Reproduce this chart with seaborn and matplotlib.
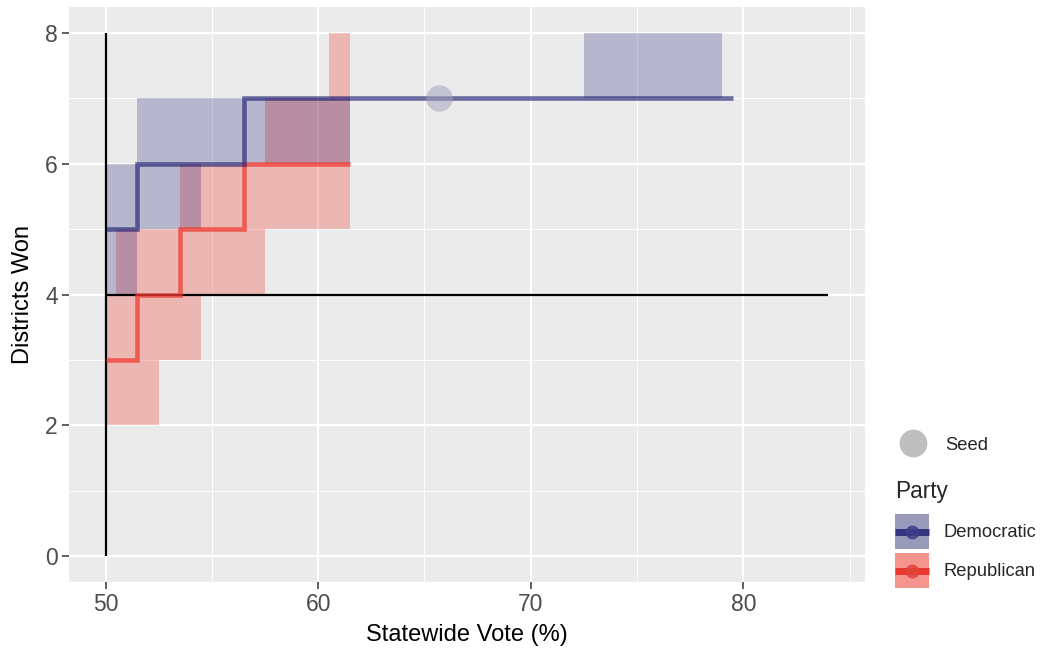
import matplotlib
matplotlib.use("Agg")
import matplotlib.pyplot as plt
import seaborn as sns
import numpy as np
import pandas as pd
from matplotlib.patches import Patch
from matplotlib.lines import Line2D
from matplotlib.legend_handler import HandlerLine2D

# ---------------- data ----------------
parties = ["Democratic", "Republican"]

dem_step_x = [50.0, 51.5, 56.5, 79.5]
dem_step_y = [5, 6, 7, 7]
rep_step_x = [50.0, 51.5, 53.5, 56.5, 61.5]
rep_step_y = [3, 4, 5, 6, 6]

dem_rect_xmin = [50.0, 50.0, 51.5, 72.5]
dem_rect_xmax = [51.5, 54.5, 61.5, 79.0]
dem_rect_ymin = [4, 5, 6, 7]
dem_rect_ymax = [5, 6, 7, 8]

rep_rect_xmin = [50.0, 50.0, 50.5, 53.5, 57.5, 60.5]
rep_rect_xmax = [52.5, 54.5, 57.5, 61.5, 61.5, 61.5]
rep_rect_ymin = [2, 3, 4, 5, 6, 7]
rep_rect_ymax = [3, 4, 5, 6, 7, 8]

seed_x = [65.7]
seed_y = [7]

ref_vline_x = 50
ref_vline_y = [0, 8]
ref_hline_y = 4
ref_hline_x = [50, 84]

x_ticks = [50, 60, 70, 80]
y_ticks = [0, 2, 4, 6, 8]

# ---------------- style ----------------
sns.set_theme(style="darkgrid")
plt.rcParams['font.family'] = ['Liberation Sans', 'DejaVu Sans']

DEM_FILL = (25/255, 25/255, 112/255)
REP_FILL = (240/255, 60/255, 50/255)

fig = plt.figure(figsize=(10.44, 6.49), dpi=100)
W, H = 1044, 649
ax = fig.add_axes([69 / W, 1 - 582 / H, (865 - 69) / W, (582 - 7) / H])
ax.set_facecolor('#EBEBEB')

# rectangles (Republican first, Democratic on top)
ax.bar(x=rep_rect_xmin,
       height=np.array(rep_rect_ymax) - np.array(rep_rect_ymin),
       width=np.array(rep_rect_xmax) - np.array(rep_rect_xmin),
       bottom=rep_rect_ymin, align='edge', color=REP_FILL, alpha=0.3,
       linewidth=0, zorder=2)
ax.bar(x=dem_rect_xmin,
       height=np.array(dem_rect_ymax) - np.array(dem_rect_ymin),
       width=np.array(dem_rect_xmax) - np.array(dem_rect_xmin),
       bottom=dem_rect_ymin, align='edge', color=DEM_FILL, alpha=0.25,
       linewidth=0, zorder=2)

# reference lines
ax.plot([ref_vline_x, ref_vline_x], ref_vline_y, color='black', lw=1.6, zorder=3,
        solid_capstyle='butt')
ax.plot(ref_hline_x, [ref_hline_y, ref_hline_y], color='black', lw=1.6, zorder=3,
        solid_capstyle='butt')

# step lines
steps = pd.concat([
    pd.DataFrame({"vote": rep_step_x, "won": rep_step_y, "party": "Republican"}),
    pd.DataFrame({"vote": dem_step_x, "won": dem_step_y, "party": "Democratic"}),
])
sns.lineplot(data=steps, x="vote", y="won", hue="party",
             hue_order=["Republican", "Democratic"],
             palette={"Republican": REP_FILL, "Democratic": DEM_FILL},
             drawstyle="steps-post", lw=3.3, alpha=0.62, legend=False,
             estimator=None, sort=False, ax=ax, zorder=4)
for ln in ax.get_lines()[-2:]:
    ln.set_solid_capstyle('butt')
    ln.set_solid_joinstyle('miter')
ax.get_lines()[-2].set_alpha(0.75)

# seed point
sns.scatterplot(x=seed_x, y=seed_y, color='#A4A4C0', s=19 ** 2, alpha=0.55,
                linewidth=0, ax=ax, zorder=5)

# axes
ax.set_xlim(48.28, 85.72)
ax.set_ylim(-0.4, 8.4)
ax.set_xticks(x_ticks)
ax.set_yticks(y_ticks)
ax.set_xticks([55, 65, 75, 85], minor=True)
ax.set_yticks([1, 3, 5, 7], minor=True)
ax.grid(which='major', color='white', lw=1.5)
ax.grid(which='minor', color='white', lw=0.7)
ax.set_axisbelow(True)
for s in ax.spines.values():
    s.set_visible(False)
ax.tick_params(which='major', length=5, width=1.1, color='#333333',
               labelcolor='#4D4D4D', labelsize=16.5, pad=3,
               bottom=True, left=True)
ax.tick_params(which='minor', length=0)
ax.set_xlabel("Statewide Vote (%)", fontsize=17, color='black', labelpad=6)
ax.set_ylabel("Districts Won", fontsize=17, color='black', labelpad=8)


class CenteredLineHandler(HandlerLine2D):
    def create_artists(self, legend, orig_handle, xdescent, ydescent,
                       width, height, fontsize, trans):
        arts = super().create_artists(legend, orig_handle, xdescent, ydescent,
                                      width, height, fontsize, trans)
        yc = height / 2.0 - ydescent
        for a in arts:
            if hasattr(a, "get_ydata"):
                a.set_ydata(np.full(len(a.get_ydata()), yc))
                a.set_solid_capstyle('butt')
        return arts


# legends
seed_handle = Line2D([], [], marker='o', ls='', color='#BEBEBE', ms=19)
leg1 = fig.legend(handles=[seed_handle], labels=["Seed"], loc='center left',
                  bbox_to_anchor=(896 / W, 1 - 445 / H), frameon=False,
                  fontsize=13.2, handlelength=1.85, handletextpad=0.82,
                  borderpad=0, borderaxespad=0)

dem_h = (Patch(facecolor='#9A9ABA', edgecolor='none'),
         Line2D([], [], color='#343482', lw=5, solid_capstyle='butt'),
         Line2D([], [], marker='o', ls='', color='#3E3E8C', ms=9, alpha=0.8))
rep_h = (Patch(facecolor='#F4948C', edgecolor='none'),
         Line2D([], [], color='#E8382E', lw=5, solid_capstyle='butt'),
         Line2D([], [], marker='o', ls='', color='#E0453C', ms=9, alpha=0.8))
leg2 = fig.legend(handles=[dem_h, rep_h], labels=parties, title="Party",
                  loc='upper left', bbox_to_anchor=(895 / W, 1 - 480 / H),
                  frameon=False, fontsize=13.2, title_fontsize=16.3,
                  handlelength=1.85, handleheight=2.56, labelspacing=0.22,
                  handletextpad=0.82, borderpad=0, borderaxespad=0,
                  alignment='left',
                  handler_map={Line2D: CenteredLineHandler()})
try:
    leg2._legend_box.sep = 8.0
except Exception:
    pass

fig.savefig("out.png", dpi=100)
